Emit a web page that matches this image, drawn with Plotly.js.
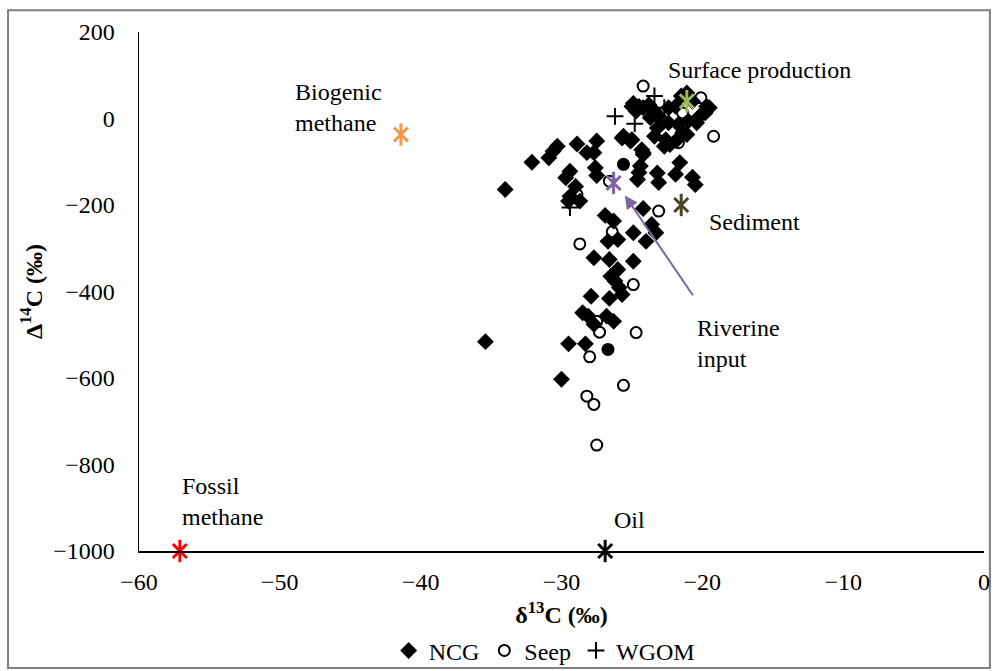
<!DOCTYPE html>
<html>
<head>
<meta charset="utf-8">
<script src="https://cdn.plot.ly/plotly-3.0.1.min.js"></script>
<style>
html,body{margin:0;padding:0;background:#fff;}
#chart{width:993px;height:671px;}
#chart svg text, #chart svg tspan { font-family: 'Liberation Serif', 'Times New Roman', Times, serif !important; }
</style>
</head>
<body>
<div id="chart"></div>
<script>
// NCG samples (δ13C, Δ14C)
const ncgX = [-25.0,-24.5,-24.2,-23.8,-23.4,-23.7,-23.1,-22.4,-21.9,-21.5,-21.1,-20.7,-19.7,-19.8,-20.2,-20.4,-21.0,-21.7,-22.4,-23.2,-21.4,-23.4,-22.6,-22.3,-22.7,-25.6,-25.1,-24.3,-24.2,-24.9,-24.7,-19.5,-21.1,-21.8,
  -34.0,-32.1,-30.9,-30.6,-30.3,-28.9,-28.2,-27.7,-27.5,-27.6,-27.5,-29.4,-29.7,-29.0,-29.4,-29.5,-28.7,-25.7,-25.0,-24.2,-24.4,-24.5,-24.6,-23.2,-23.1,-21.6,-21.9,-20.7,-20.5,-24.2,
  -26.9,-26.3,-26.7,-26.0,-24.9,-23.6,-23.3,-24.0,-27.7,-26.6,-24.9,-26.0,-26.5,-26.2,-25.9,-25.7,-27.9,-26.6,-28.5,-28.1,-26.8,-26.3,-27.7,-35.4,-29.5,-28.3,-30.0];
const ncgY = [28,28,25,32,17,2,5,25,28,52,59,40,28,13,5,-10,-6,-14,-10,-22,-33,-41,-49,-60,-64,-41,-52,-72,-83,35,17,25,-37,-49,
  -164,-101,-91,-76,-64,-59,-79,-79,-52,-114,-132,-122,-137,-157,-180,-191,-191,-45,-49,-79,-110,-125,-141,-126,-148,-102,-129,-136,-153,-208,
  -224,-237,-284,-280,-264,-245,-264,-284,-322,-326,-330,-349,-365,-376,-391,-407,-411,-416,-449,-457,-457,-469,-476,-516,-521,-521,-603];
// Seep samples
const seepX = [-24.2,-20.1,-19.2,-21.4,-21.7,-26.6,-28.9,-23.1,-26.4,-28.7,-24.9,-27.5,-27.3,-24.7,-28.0,-25.6,-28.2,-27.7,-27.5];
const seepY = [75,48,-41,13,-56,-145,-176,-214,-262,-290,-384,-469,-494,-495,-551,-617,-642,-661,-755];
// WGOM samples
const wgomX = [-23.4,-22.7,-26.2,-24.8,-29.4];
const wgomY = [52,25,5,-12,-206];
// filled circles (unlabelled)
const dotX = [-25.6,-26.7];
const dotY = [-106,-534];
// End members
const emNames = ['Fossil methane','Biogenic methane','Surface production','Sediment','Riverine input','Oil'];
const emX = [-57.1,-41.4,-21.1,-21.5,-26.3,-26.9];
const emY = [-1000,-37,40,-200,-149,-1000];
const emColors = ['#FF0000','#F79646','#9BBB59','#4A452A','#8064A2','#000000'];
// tick values
const xTicks = [-60,-50,-40,-30,-20,-10,0];
const yTicks = [-1000,-800,-600,-400,-200,0,200];

const FONT = 'Liberation Serif';
const FS = 24;

const traces = [
  {x: seepX, y: seepY, type:'scatter', mode:'markers', name:'Seep', legendrank:2,
   marker:{symbol:'circle-open', size:11, color:'#000', line:{width:2, color:'#000'}}},
  {x: ncgX, y: ncgY, type:'scatter', mode:'markers', name:'NCG', legendrank:1,
   marker:{symbol:'diamond', size:13, color:'#000', line:{width:0}}},
  {x: wgomX, y: wgomY, type:'scatter', mode:'markers', name:'WGOM', legendrank:3,
   marker:{symbol:'cross-thin-open', size:12, color:'#000', line:{width:2, color:'#000'}}},
  {x: dotX, y: dotY, type:'scatter', mode:'markers', showlegend:false,
   marker:{symbol:'circle', size:13, color:'#000'}},
  {x: emX, y: emY, type:'scatter', mode:'markers', showlegend:false, cliponaxis:false,
   marker:{symbol:'x-thin-open', size:14, color:emColors, line:{width:3, color:emColors}}},
  {x: emX, y: emY, type:'scatter', mode:'markers', showlegend:false, cliponaxis:false,
   marker:{symbol:'line-ns-open', size:16, color:emColors, line:{width:3, color:emColors}}}
];

const annFont = () => ({family: FONT, size: FS, color:'#000'});
const layout = {
  width: 993, height: 671,
  margin: {l:139, r:9, t:32, b:120, autoexpand:false},
  paper_bgcolor:'#fff', plot_bgcolor:'#fff',
  font: {family: FONT, size: FS, color:'#000'},
  showlegend: true,
  legend: {orientation:'h', x:0.548, xref:'container', xanchor:'center', y:0.03, yref:'container', yanchor:'middle',
           bgcolor:'rgba(0,0,0,0)',
           font:{family:FONT, size:FS, color:'#000'}, itemwidth:30, traceorder:'normal'},
  xaxis: {range:[-60,0], tickvals:xTicks, ticktext:xTicks.map(v=>v<0?'\u2212'+(-v):String(v)),
          showgrid:false, zeroline:false, showline:true, linecolor:'#000', linewidth:2,
          ticks:'outside', ticklen:8, tickcolor:'rgba(0,0,0,0)',
          tickfont:{family:FONT, size:FS, color:'#000'},
          title:{text:'<b>\u03b4<sup>13</sup>C (\u2030)</b>', font:{family:FONT, size:FS, color:'#000'}, standoff:20}},
  yaxis: {range:[-1000,200], tickvals:yTicks, ticktext:yTicks.map(v=>v<0?'\u2212'+(-v):String(v)),
          showgrid:false, zeroline:false, showline:true, linecolor:'#000', linewidth:1.5,
          ticks:'outside', ticklen:18, tickcolor:'rgba(0,0,0,0)',
          tickfont:{family:FONT, size:FS, color:'#000'},
          title:{text:'<b>\u0394<sup>14</sup>C (\u2030)</b>', font:{family:FONT, size:FS, color:'#000'}, standoff:4}},
  shapes: [{type:'rect', xref:'paper', yref:'paper', x0:-0.155, x1:1.007, y0:-0.2254, y1:1.042,
            line:{color:'#808080', width:2}, fillcolor:'rgba(0,0,0,0)', layer:'below'}],
  annotations: [
    {x:-49.05, y:25, xref:'x', yref:'y', text:'Biogenic<br>methane', showarrow:false, xanchor:'left', yanchor:'middle', align:'left', font:annFont()},
    {x:-22.55, y:111, xref:'x', yref:'y', text:'Surface production', showarrow:false, xanchor:'left', yanchor:'middle', align:'left', font:annFont()},
    {x:-19.7, y:-240, xref:'x', yref:'y', text:'Sediment', showarrow:false, xanchor:'left', yanchor:'middle', align:'left', font:annFont()},
    {x:-20.55, y:-520, xref:'x', yref:'y', text:'Riverine<br>input', showarrow:false, xanchor:'left', yanchor:'middle', align:'left', font:annFont()},
    {x:-57.1, y:-886, xref:'x', yref:'y', text:'Fossil<br>methane', showarrow:false, xanchor:'left', yanchor:'middle', align:'left', font:annFont()},
    {x:-26.4, y:-929, xref:'x', yref:'y', text:'Oil', showarrow:false, xanchor:'left', yanchor:'middle', align:'left', font:annFont()},
    {x:-25.5, y:-178, ax:-20.6, ay:-412, xref:'x', yref:'y', axref:'x', ayref:'y', text:'', showarrow:true,
     arrowhead:2, arrowsize:1.3, arrowwidth:2, arrowcolor:'#8064A2'}
  ]
};

Plotly.newPlot('chart', traces, layout, {displayModeBar:false, staticPlot:true});
</script>
</body>
</html>
